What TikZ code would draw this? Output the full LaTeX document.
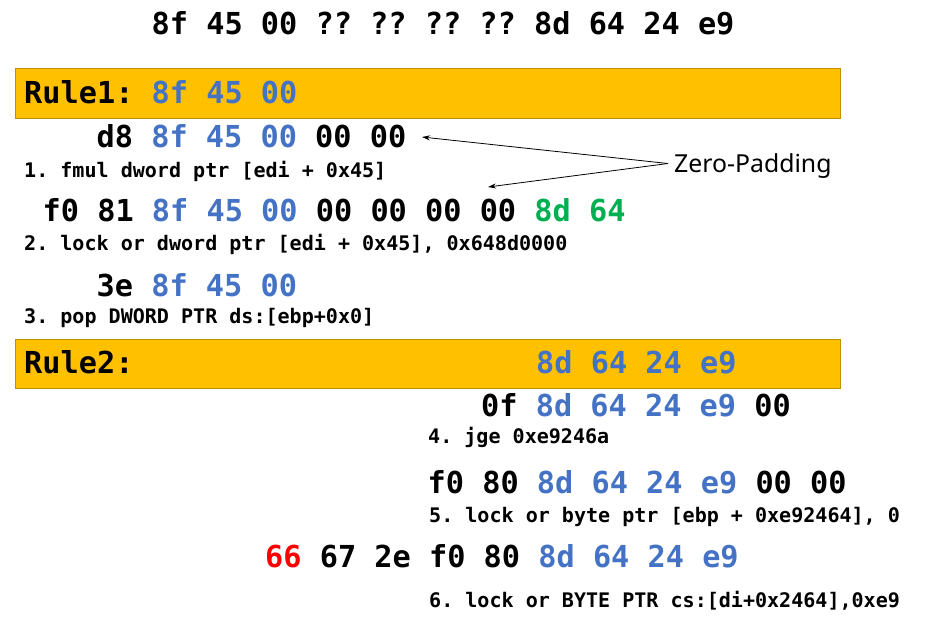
\documentclass[tikz,border=0pt]{standalone}
\usepackage{fontspec}
\usetikzlibrary{arrows.meta}
\newfontfamily\hexfont{DejaVu Sans Mono}
\newfontfamily\labfont{Noto Sans}
\definecolor{hexblue}{HTML}{4472C4}
\definecolor{hexgreen}{HTML}{00B050}
\definecolor{hexred}{HTML}{FF0000}
\definecolor{rulefill}{HTML}{FFC000}
\definecolor{ruleline}{HTML}{BF9000}
\newcommand{\hb}[1]{\textcolor{hexblue}{#1}}
\newcommand{\hg}[1]{\textcolor{hexgreen}{#1}}
\newcommand{\hr}[1]{\textcolor{hexred}{#1}}
\frenchspacing
\tikzset{
  bighex/.style={anchor=base west, inner sep=0pt, font=\frenchspacing\hexfont\bfseries\fontsize{30.25}{36}\selectfont},
  smallasm/.style={anchor=base west, inner sep=0pt, font=\frenchspacing\hexfont\bfseries\fontsize{20.05}{24}\selectfont},
  rulebox/.style={draw=ruleline, fill=rulefill, line width=0.9pt, inner sep=0pt, minimum width=825pt},
  padlabel/.style={anchor=base west, inner sep=0pt, font=\labfont\fontsize{24.8}{29}\selectfont},
  padarrow/.style={-{Stealth[length=8pt,width=5pt]}, line width=0.8pt}
}
\begin{document}
\begin{tikzpicture}[x=1pt,y=-1pt]
\useasboundingbox (0,0) rectangle (928,633);
% top byte pattern
\node[bighex] (top) at (151.5,34) {8f 45 00 ?? ?? ?? ?? 8d 64 24 e9};
% Rule 1
\node[rulebox, minimum height=50pt] (r1box) at (427.75,93.5) {};
\node[bighex] (r1text) at (24,103) {Rule1: \hb{8f 45 00}};
\node[bighex] (l1) at (96.5,147) {d8 \hb{8f 45 00} 00 00};
\node[smallasm] (c1) at (24,177) {1. fmul dword ptr [edi + 0x45]};
\node[bighex] (l2) at (42.5,221) {f0 81 \hb{8f 45 00} 00 00 00 00 \hg{8d 64}};
\node[smallasm] (c2) at (24,250) {2. lock or dword ptr [edi + 0x45], 0x648d0000};
\node[bighex] (l3) at (96.5,296) {3e \hb{8f 45 00}};
\node[smallasm] (c3) at (24,323) {3. pop DWORD PTR ds:[ebp+0x0]};
% Rule 2
\node[rulebox, minimum height=49.5pt] (r2box) at (427.75,363.75) {};
\node[bighex] (r2text) at (24,373) {Rule2:};
\node[bighex] (r2hex) at (536,373) {\hb{8d 64 24 e9}};
\node[bighex] (l4) at (481,416) {0f \hb{8d 64 24 e9} 00};
\node[smallasm] (c4) at (428,443) {4. jge 0xe9246a};
\node[bighex] (l5) at (427.5,493) {f0 80 \hb{8d 64 24 e9} 00 00};
\node[smallasm] (c5) at (429,522) {5. lock or byte ptr [ebp + 0xe92464], 0};
\node[bighex] (l6) at (265,567) {\hr{66} 67 2e f0 80 \hb{8d 64 24 e9}};
\node[smallasm] (c6) at (429,607) {6. lock or BYTE PTR cs:[di+0x2464],0xe9};
% Zero padding annotation
\node[padlabel] (zp) at (674,172) {Zero-Padding};
\coordinate (zpa) at (668,163.5);
\coordinate (pad1) at (422,137);
\coordinate (pad2) at (488,187);
\draw[padarrow] (zpa) -- (pad1);
\draw[padarrow] (zpa) -- (pad2);
\end{tikzpicture}
\end{document}
